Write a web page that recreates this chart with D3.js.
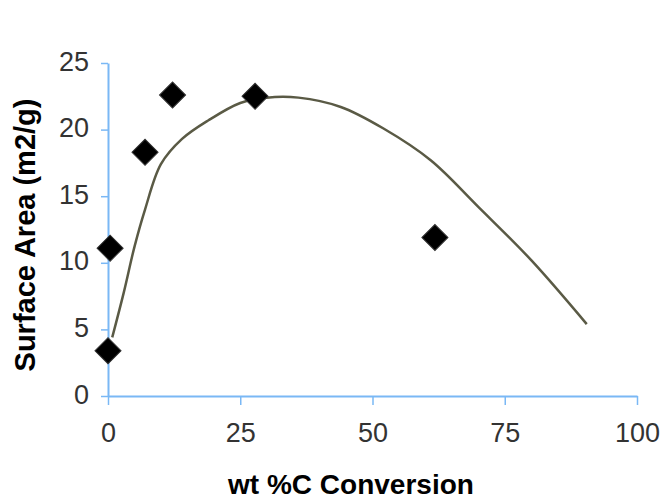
<!DOCTYPE html>
<html>
<head>
<meta charset="utf-8">
<script src="https://cdn.jsdelivr.net/npm/d3@7"></script>
<style>
  html, body { margin: 0; padding: 0; background: #fff; }
  svg { display: block; }
</style>
</head>
<body>
<svg id="chart" width="661" height="499"></svg>
<script>
// ---- data ----
const xTicks = [0, 25, 50, 75, 100];
const yTicks = [0, 5, 10, 15, 20, 25];
const pointX = [0, 0.4, 7, 12.2, 27.8, 61.8];
const pointY = [3.4, 11.1, 18.3, 22.6, 22.5, 11.9];
const fitX = [0.8, 3, 5, 7, 10, 14, 19, 25, 30, 36, 44, 52, 61, 70, 80, 90.5];
const fitY = [4.4, 7.8, 11.2, 14.0, 17.4, 19.3, 20.7, 22.0, 22.4, 22.4, 21.7, 20.1, 17.7, 14.2, 10.2, 5.4];
const xTitle = "wt %C Conversion";
const yTitle = "Surface Area (m2/g)";

// ---- layout ----
const svg = d3.select("#chart");
const axisColor = "#7ab8f5";
const x = d3.scaleLinear().domain([0, 100]).range([108, 637]);
const y = d3.scaleLinear().domain([0, 25]).range([396, 63]);

// x axis
const gx = svg.append("g").attr("transform", `translate(0,${y(0)})`)
  .call(d3.axisBottom(x).tickValues(xTicks).tickSize(9).tickSizeOuter(0).tickPadding(18));
// y axis
const gy = svg.append("g").attr("transform", `translate(${x(0)},0)`)
  .call(d3.axisLeft(y).tickValues(yTicks).tickSize(7).tickSizeOuter(0).tickPadding(12));

[gx, gy].forEach(g => {
  g.select(".domain").attr("stroke", axisColor).attr("stroke-width", 2);
  g.selectAll(".tick line").attr("stroke", axisColor).attr("stroke-width", 1.5);
  g.selectAll(".tick text")
    .attr("fill", "#333")
    .style("font-family", "'Liberation Sans', Arial, sans-serif")
    .style("font-size", "27px");
});
gy.selectAll(".tick text").attr("dy", "0.26em");

// fitted curve
const fit = fitX.map((d, i) => [d, fitY[i]]);
svg.append("path")
  .datum(fit)
  .attr("fill", "none")
  .attr("stroke", "#5a5a45")
  .attr("stroke-width", 2.5)
  .attr("d", d3.line().x(d => x(d[0])).y(d => y(d[1])).curve(d3.curveCatmullRom.alpha(0.5)));

// points (diamonds)
const pts = pointX.map((d, i) => [d, pointY[i]]);
const diamond = d3.symbol().type(d3.symbolSquare).size(340);
svg.append("g").selectAll("path")
  .data(pts)
  .join("path")
  .attr("d", diamond)
  .attr("transform", d => `translate(${x(d[0])},${y(d[1])}) rotate(45)`)
  .attr("fill", "#000")
  .attr("stroke", "#333")
  .attr("stroke-width", 1);

// titles
svg.append("text")
  .attr("x", 351).attr("y", 494)
  .attr("text-anchor", "middle")
  .style("font-family", "'Liberation Sans', Arial, sans-serif")
  .style("font-size", "28px").style("font-weight", "bold")
  .attr("fill", "#000")
  .text(xTitle);

svg.append("text")
  .attr("transform", "translate(35,235) rotate(-90)")
  .attr("text-anchor", "middle")
  .style("font-family", "'Liberation Sans', Arial, sans-serif")
  .style("font-size", "29px").style("font-weight", "bold")
  .attr("fill", "#000")
  .text(yTitle);
</script>
</body>
</html>
